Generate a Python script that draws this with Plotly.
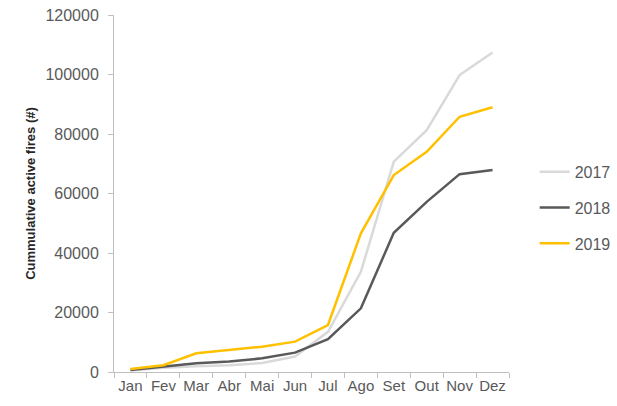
import plotly.graph_objects as go

months = ["Jan", "Fev", "Mar", "Abr", "Mai", "Jun", "Jul", "Ago", "Set", "Out", "Nov", "Dez"]
fires_2017 = [500, 1400, 1900, 2300, 3000, 5200, 13500, 33700, 70700, 81300, 99800, 107400]
fires_2018 = [700, 1800, 2900, 3500, 4600, 6500, 11000, 21400, 46800, 57200, 66500, 67900]
fires_2019 = [1000, 2300, 6300, 7400, 8500, 10200, 15800, 46600, 66200, 74000, 85800, 89000]

series = [("2017", fires_2017, "#d9d9d9"), ("2018", fires_2018, "#595959"), ("2019", fires_2019, "#ffc000")]

fig = go.Figure()
for name, vals, col in series:
    fig.add_trace(go.Scatter(x=months, y=vals, name=name, mode="lines",
                             line=dict(color=col, width=2.5), legendgroup=name))

fig.update_layout(
    width=617, height=406,
    margin=dict(l=114, r=108, t=15, b=34, autoexpand=False),
    paper_bgcolor="white", plot_bgcolor="white",
    font=dict(family="Liberation Sans, Arial, sans-serif", size=15, color="#595959"),
    showlegend=True,
    legend=dict(x=1.065, xanchor="left", y=0.46, yanchor="middle",
                tracegroupgap=12, font=dict(size=16, color="#595959"),
                bgcolor="rgba(0,0,0,0)"),
    xaxis=dict(type="category", range=[-0.5, 11.5], showgrid=False, showline=True,
               linecolor="#bfbfbf", linewidth=1, automargin=False, tickangle=0,
               ticks="outside", tickson="boundaries", ticklen=5, tickcolor="#bfbfbf",
               tickfont=dict(size=15, color="#595959"), zeroline=False),
    yaxis=dict(range=[0, 120000], dtick=20000, tickformat="d", showgrid=False,
               showline=True, linecolor="#bfbfbf", linewidth=1, ticks="outside",
               ticklen=5, tickcolor="#bfbfbf", tickfont=dict(size=16, color="#595959"),
               zeroline=False, automargin=False, ticklabelstandoff=6,
               title=dict(text="<b>Cummulative active fires (#)</b>",
                          font=dict(size=13, color="#262626"), standoff=6)),
)

fig.write_html("out.html", config={"displayModeBar": False},
               post_script="document.body.style.margin='0px';document.body.style.overflow='hidden';")
